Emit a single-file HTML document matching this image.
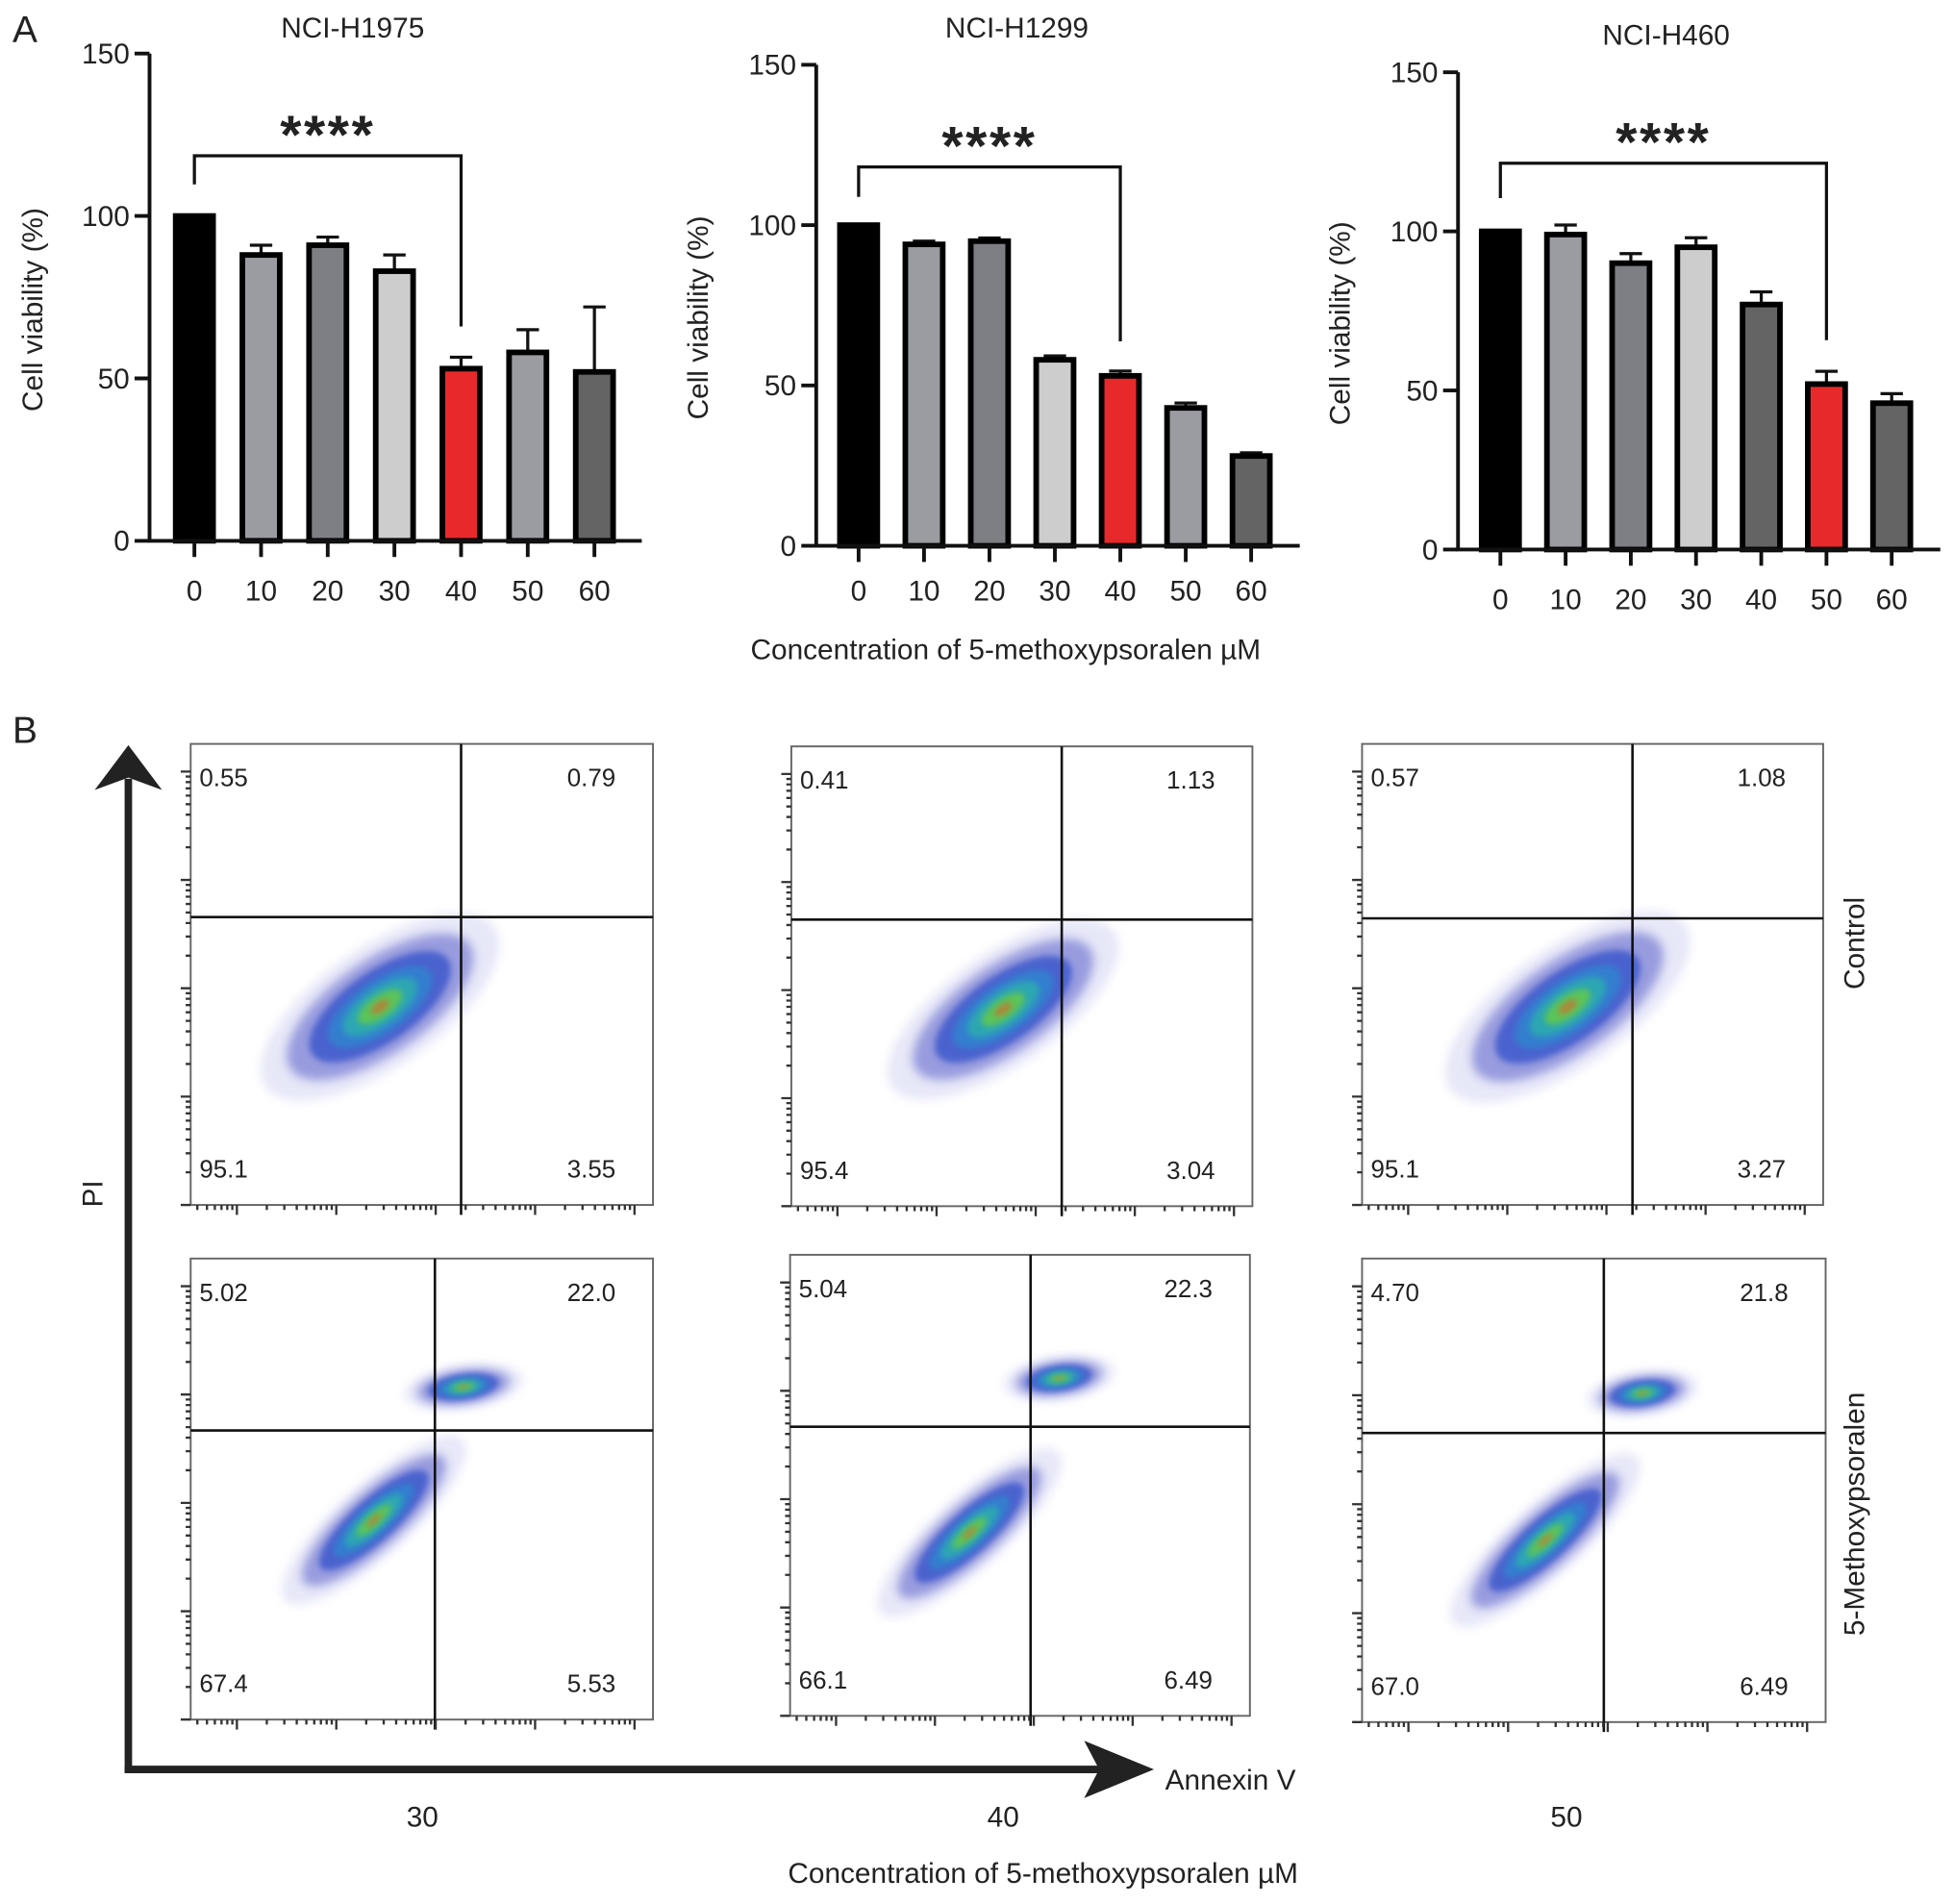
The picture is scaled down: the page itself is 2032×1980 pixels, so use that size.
<!DOCTYPE html>
<html><head><meta charset="utf-8"><style>
html,body{margin:0;padding:0;background:#fff}
svg{display:block}
text{font-family:"Liberation Sans",Arial,sans-serif;fill:#222}
</style></head><body>
<svg id="fig" width="2032" height="1980" viewBox="0 0 1568 1528" preserveAspectRatio="none" xmlns="http://www.w3.org/2000/svg">
<defs>
<filter id="blur" x="-50%" y="-50%" width="200%" height="200%"><feGaussianBlur stdDeviation="4"/></filter>
<filter id="blur2" x="-50%" y="-50%" width="200%" height="200%"><feGaussianBlur stdDeviation="2.5"/></filter>
</defs>
<text x="10" y="34" font-size="30">A</text>
<text x="10" y="596" font-size="30">B</text>
<g id="bars"></g>
<text x="807" y="529" font-size="23" text-anchor="middle">Concentration of 5-methoxypsoralen µM</text>
<g id="flow"></g>
<line x1="103" y1="1422" x2="103" y2="625" stroke="#222" stroke-width="6"/>
<path d="M103 598 L76 634 L103 624 L130 634 Z" fill="#222"/>
<line x1="100" y1="1420" x2="900" y2="1420" stroke="#222" stroke-width="6"/>
<path d="M926 1420 L870 1397 L882 1420 L870 1443 Z" fill="#222"/>
<text x="82" y="958" font-size="23" text-anchor="middle" transform="rotate(-90 82 958)">PI</text>
<text x="935" y="1436" font-size="23">Annexin V</text>
<text x="339" y="1466" font-size="23" text-anchor="middle">30</text>
<text x="805" y="1466" font-size="23" text-anchor="middle">40</text>
<text x="1257" y="1466" font-size="23" text-anchor="middle">50</text>
<text x="837" y="1511" font-size="23" text-anchor="middle">Concentration of 5-methoxypsoralen µM</text>
<text x="1496" y="757" font-size="23" text-anchor="middle" transform="rotate(-90 1496 757)">Control</text>
<text x="1496" y="1215" font-size="23" text-anchor="middle" transform="rotate(-90 1496 1215)">5-Methoxypsoralen</text>
</svg>
<script>
const NS="http://www.w3.org/2000/svg";
const categories=["0","10","20","30","40","50","60"];
const h1975Values=[100,88,91,83,53,58,52];
const h1975Err=[0,3,2.5,5,3.5,7,20];
const h1299Values=[100,94,95,58,53,43,28];
const h1299Err=[0,1,1,1.2,1.5,1.5,1];
const h460Values=[100,99,90,95,77,52,46];
const h460Err=[0,3,3,3,4,4,3];
const yTicks=[0,50,100,150];
const h1975Colors=["#000","#9a9ca1","#7e7f84","#cdcdcd","#e8292b","#9a9ca1","#646464"];
const h1299Colors=["#000","#9a9ca1","#7e7f84","#cdcdcd","#e8292b","#9a9ca1","#646464"];
const h460Colors=["#000","#9a9ca1","#7e7f84","#cdcdcd","#646464","#e8292b","#646464"];
const charts=[
 {name:"nci-h1975",title:"NCI-H1975",vals:h1975Values,err:h1975Err,col:h1975Colors,ax:120,ar:515,y0:434,y150:43,x0:156,x60:477,br:[0,4],brY:125,brL:148,brR:262,titleX:283,titleY:30,ylx:34,tickY:482},
 {name:"nci-h1299",title:"NCI-H1299",vals:h1299Values,err:h1299Err,col:h1299Colors,ax:655,ar:1043,y0:438,y150:52,x0:689,x60:1004,br:[0,4],brY:134,brL:158,brR:274,titleX:816,titleY:30,ylx:568,tickY:482},
 {name:"nci-h460",title:"NCI-H460",vals:h460Values,err:h460Err,col:h460Colors,ax:1170,ar:1557,y0:441,y150:58,x0:1204,x60:1518,br:[0,5],brY:131,brL:159,brR:273,titleX:1337,titleY:36,ylx:1083,tickY:489}
];
const g=document.getElementById('bars');
function mk(tag,attrs,parent){const e=document.createElementNS(NS,tag);for(const k in attrs)e.setAttribute(k,attrs[k]);(parent||g).appendChild(e);return e;}
charts.forEach(c=>{
 const grp=mk('g',{});
 
 
 const y=v=>c.y0-(v/150)*(c.y0-c.y150);
 const x=i=>c.x0+i*(c.x60-c.x0)/(categories.length-1);
 const t=mk('text',{x:c.titleX,y:c.titleY,'font-size':23,'text-anchor':'middle'},grp);t.textContent=c.title;
 
 
 const yl=mk('text',{x:c.ylx,y:(c.y0+c.y150)/2+10,'font-size':23,'text-anchor':'middle',transform:`rotate(-90 ${c.ylx} ${(c.y0+c.y150)/2+10})`},grp);yl.textContent="Cell viability (%)";
 
 
 c.vals.forEach((v,i)=>{
  const bw=30, cx=x(i);
  if(c.err[i]>0){
   const e=mk('path',{d:`M${cx} ${y(v)} V${y(v+c.err[i])} M${cx-9} ${y(v+c.err[i])} H${cx+9}`,stroke:'#111','stroke-width':2.5,fill:'none'},grp);
   
   
  }
  const r=mk('rect',{x:cx-bw/2,y:y(v),width:bw,height:c.y0-y(v),fill:c.col[i],stroke:'#000','stroke-width':4.5},grp);
  
  
  const tk=mk('line',{x1:cx,y1:c.y0,x2:cx,y2:c.y0+13,stroke:'#111','stroke-width':3},grp);
  
  
  const tl=mk('text',{x:cx,y:c.tickY,'font-size':23,'text-anchor':'middle'},grp);tl.textContent=categories[i];
  
  
 });
 const axp=mk('path',{d:`M${c.ax} ${c.y150} V${c.y0} H${c.ar}`,stroke:'#111','stroke-width':3,fill:'none'},grp);
 
 
 yTicks.forEach(v=>{
  const tk=mk('line',{x1:c.ax-12,y1:y(v),x2:c.ax,y2:y(v),stroke:'#111','stroke-width':3},grp);
  
  
  const tl=mk('text',{x:c.ax-16,y:y(v)+8,'font-size':23,'text-anchor':'end'},grp);tl.textContent=v;
  
  
 });
 const bl=x(c.br[0]),brr=x(c.br[1]);
 const b=mk('path',{d:`M${bl} ${c.brL} V${c.brY} H${brr} V${c.brR}`,stroke:'#111','stroke-width':2.5,fill:'none'},grp);
 
 
 const st=mk('text',{x:(bl+brr)/2,y:c.brY-2,'font-size':44,'font-weight':'bold','text-anchor':'middle','letter-spacing':'2'},grp);st.textContent="****";
 
 
});

const plotBoxes=[[153,597,524,967],[635,599,1005,968],[1093,597,1463,967],[153,1010,524,1380],[634,1007,1003,1377],[1093,1010,1465,1382]];
const gateX=[370,852,1310,349,827,1287];
const gateY=[736,738,737,1148,1145,1150];
const quadUL=["0.55","0.41","0.57","5.02","5.04","4.70"];
const quadUR=["0.79","1.13","1.08","22.0","22.3","21.8"];
const quadLL=["95.1","95.4","95.1","67.4","66.1","67.0"];
const quadLR=["3.55","3.04","3.27","5.53","6.49","6.49"];
const mainClusters=[[305,808,70,30,-35],[805,810,68,28,-35],[1258,808,72,30,-35],[300,1220,60,18,-42],[778,1230,60,18,-42],[1240,1236,62,18,-42]];
const upperClusters=[null,null,null,[372,1113,30,11,-8],[850,1106,28,11,-8],[1318,1118,28,11,-8]];
const fg=document.getElementById('flow');
function blob(c,parent){
 const [cx,cy,rx,ry,a]=c;
 const layers=[[1.6,'#7a7fd8',0.18,'blur'],[1.25,'#3a3fc0',0.45,'blur'],[0.95,'#2a4cc8',0.7,'blur2'],[0.7,'#2a8ad0',0.7,'blur2'],[0.5,'#2ab8a8',0.7,'blur2'],[0.3,'#6ccf3a',0.75,'blur2'],[0.12,'#e06028',0.7,'blur2']];
 layers.forEach(l=>{
  const e=mk('ellipse',{cx:cx,cy:cy,rx:rx*l[0],ry:ry*l[0],fill:l[1],opacity:l[2],filter:'url(#'+l[3]+')',transform:`rotate(${a} ${cx} ${cy})`},parent);
  
  
 });
}
plotBoxes.forEach((bx,i)=>{
 const [x1,y1,x2,y2]=bx;
 const pg=mk('g',{},fg);
 
 
 const r=mk('rect',{x:x1,y:y1,width:x2-x1,height:y2-y1,fill:'#fff',stroke:'#666','stroke-width':1.5},pg);
 
 
 blob(mainClusters[i],pg);
 if(upperClusters[i]) blob(upperClusters[i],pg);
 const q=mk('path',{d:`M${gateX[i]} ${y1} V${y2+8} M${x1} ${gateY[i]} H${x2}`,stroke:'#111','stroke-width':2,fill:'none'},pg);
 
 
 let d='';
 const w=x2-x1,h=y2-y1,dy=h*0.235,dx=w*0.215;
 for(let k=0;k<5;k++){const ty=y2-k*dy;d+=`M${x1-8} ${ty} H${x1}`;for(let m=2;m<10;m++){const yy=ty-dy*Math.log10(m);if(yy>y1+4)d+=`M${x1-4} ${yy} H${x1}`;}}
 for(let k=0;k<5;k++){const tx=x1+w*0.1+k*dx;d+=`M${tx} ${y2} V${y2+8}`;for(let m=2;m<10;m++){const xx=tx-dx+dx*Math.log10(m);if(xx>x1+3)d+=`M${xx} ${y2} V${y2+4}`;}}
 const tk=mk('path',{d:d,stroke:'#333','stroke-width':1.8,fill:'none'},pg);
 
 
 const labs=[[quadUL[i],x1+7,y1+34,'start','ul'],[quadUR[i],x2-30,y1+34,'end','ur'],[quadLL[i],x1+7,y2-22,'start','ll'],[quadLR[i],x2-30,y2-22,'end','lr']];
 labs.forEach(L=>{
  const t=mk('text',{x:L[1],y:L[2],'font-size':20,'text-anchor':L[3],fill:'#333'},pg);t.textContent=L[0];
  
  
 });
});
</script>
</body></html>
